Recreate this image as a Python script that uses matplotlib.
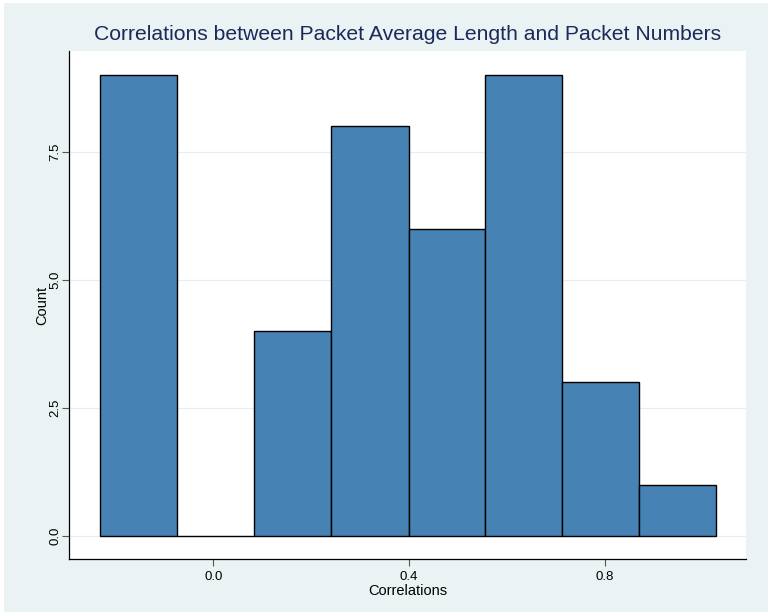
import matplotlib
matplotlib.use("Agg")
import matplotlib.pyplot as plt
from matplotlib.patches import Rectangle

bin_edges = [-0.231, -0.0735, 0.0838, 0.241, 0.399, 0.556, 0.712, 0.869, 1.027]
counts = [9, 0, 4, 8, 6, 9, 3, 1]
xticks = [0.0, 0.4, 0.8]
xtick_labels = ["0.0", "0.4", "0.8"]
yticks = [0.0, 2.5, 5.0, 7.5]
ytick_labels = ["0.0", "2.5", "5.0", "7.5"]
title = "Correlations between Packet Average Length and Packet Numbers"
xlabel = "Correlations"
ylabel = "Count"

plt.rcParams['font.family'] = ['Liberation Sans', 'DejaVu Sans']

W, H = 772, 615
fig = plt.figure(figsize=(W / 100, H / 100), dpi=100, facecolor="white")
bg = "#EAF2F3"
fig.patches.append(Rectangle((4 / W, 3 / H), (768 - 4) / W, (612 - 3) / H,
                             transform=fig.transFigure, facecolor=bg,
                             edgecolor="none", zorder=-10))

ax = fig.add_axes([69 / W, 1 - 559 / H, (746 - 69) / W, (559 - 51) / H])
ax.set_facecolor("white")

centers = [(bin_edges[i] + bin_edges[i + 1]) / 2 for i in range(len(counts))]
ax.hist(centers, bins=bin_edges, weights=counts, color="#4682B4",
        edgecolor="black", linewidth=1.0, zorder=3)

ax.set_xlim(-0.2945, 1.088)
ax.set_ylim(-0.448, 9.47)

ax.set_yticks(yticks)
ax.set_yticklabels(ytick_labels, rotation=90, va="center", fontsize=9.5)
ax.set_xticks(xticks)
ax.set_xticklabels(xtick_labels, fontsize=9.5)
ax.tick_params(axis="both", direction="out", length=5, width=0.8,
               color="#555555", labelcolor="black")
ax.tick_params(axis="y", pad=0.5)
ax.grid(axis="y", color="#E6EEF0", linewidth=0.9, zorder=0)

for s in ["top", "right"]:
    ax.spines[s].set_visible(False)
for s in ["left", "bottom"]:
    ax.spines[s].set_color("black")
    ax.spines[s].set_linewidth(0.9)

ax.set_title(title, fontsize=15.2, color="#1A2A5A", pad=8)
ax.set_xlabel(xlabel, fontsize=10.5, labelpad=1)
ax.set_ylabel(ylabel, fontsize=10.5, labelpad=0)

fig.savefig("out.png", dpi=100, facecolor=fig.get_facecolor())
